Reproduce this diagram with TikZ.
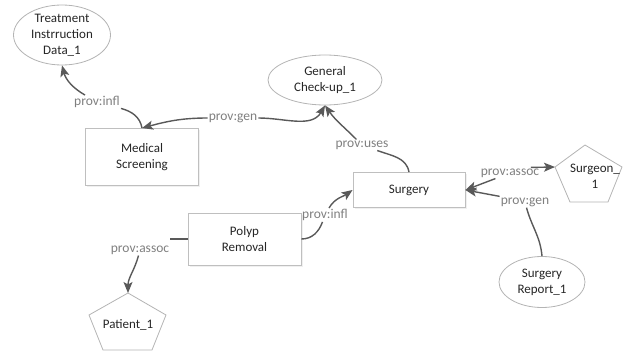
\documentclass[tikz,border=0pt]{standalone}
\usepackage{fontspec}
\setmainfont{Carlito}
\usetikzlibrary{arrows.meta, shapes.geometric, positioning, calc, shadows}
\definecolor{provarrow}{HTML}{595959}
\definecolor{provlabel}{HTML}{7F7F7F}
\definecolor{provbox}{HTML}{BFBFBF}
\definecolor{provshape}{HTML}{B4B4B4}
\definecolor{provtext}{HTML}{262626}

\begin{document}
\begin{tikzpicture}[
    x=1pt, y=-1pt,
    entity/.style={
        ellipse,
        draw=provshape,
        line width=0.8pt,
        fill=white,
        inner sep=0pt,
        align=center,
        text=provtext,
        font=\fontsize{13}{16}\selectfont
    },
    activity/.style={
        rectangle,
        draw=provbox,
        line width=0.9pt,
        fill=white,
        drop shadow={opacity=0.12, shadow xshift=1.5pt, shadow yshift=-1.5pt},
        align=center,
        text=provtext,
        font=\fontsize{13}{16}\selectfont
    },
    agent/.style={
        draw=provshape,
        line width=0.8pt,
        fill=white
    },
    agenttext/.style={
        align=center,
        text=provtext,
        font=\fontsize{13}{16}\selectfont
    },
    rel/.style={
        inner sep=1pt,
        text=provlabel,
        font=\fontsize{13.5}{16}\selectfont
    },
    line/.style={
        draw=provarrow,
        line width=1.4pt
    },
    arrow/.style={
        line,
        -{Stealth[length=11pt, width=9pt, inset=2.5pt]}
    }
]
\useasboundingbox (0,0) rectangle (635,353);

% Entities
\node[entity, minimum width=97, minimum height=60] (treat) at (62,35) {Treatment\\Instrruction\\Data\_1};
\node[entity, minimum width=114, minimum height=50] (checkup) at (325,80) {General\\Check-up\_1};
\node[entity, minimum width=86, minimum height=51] (report) at (542,282) {Surgery\\Report\_1};

% Activities
\node[activity, minimum width=113, minimum height=57] (medscr) at (142,157) {Medical\\Screening};
\node[activity, minimum width=112, minimum height=35] (surgery) at (409,190) {Surgery};
\node[activity, minimum width=113, minimum height=52] (polyp) at (244.5,239) {Polyp\\Removal};

% Agents
\draw[agent] (128,293) -- (166,315) -- (152,350) -- (103,350) -- (89,315) -- cycle;
\coordinate (patienttop) at (128,293);
\node[agenttext] (patient) at (128,325) {Patient\_1};

\draw[agent] (585,145) -- (622,167) -- (608,202) -- (570,202) -- (555,167) -- cycle;
\coordinate (surgeonleft) at (555,167);
\node[agenttext] (surgeon) at (595,176) {Surgeon\_\\1};

% Relation labels
\node[rel] (infl1) at (97,102) {prov:infl};
\node[rel] (gen1) at (233,118) {prov:gen};
\node[rel] (uses) at (362,145) {prov:uses};
\node[rel] (infl2) at (325,215) {prov:infl};
\node[rel] (assoc1) at (140,250) {prov:assoc};
\node[rel] (assoc2) at (510,173) {prov:assoc};
\node[rel] (gen2) at (525,202) {prov:gen};

% Connections
\draw[line] (medscr.north) to[out=100, in=-15] (infl1);
\draw[arrow] (infl1) to[out=150, in=-75] (treat.south);

\draw[arrow] (gen1) to[out=180, in=15] (medscr.north);
\draw[arrow] (gen1) to[out=0, in=-120] (checkup.south);

\draw[line] (surgery.north) to[out=100, in=-20] (uses);
\draw[arrow] (uses) to[out=135, in=-55] (checkup.south);

\draw[line] (polyp.east) to[out=0, in=-110] (infl2);
\draw[arrow] (infl2) to[out=60, in=215] (surgery.west);

\draw[line] (polyp.west) -- (polyp.west -| assoc1.east);
\draw[arrow] (assoc1) to[out=-105, in=90] (patienttop);

\draw[arrow] (assoc2.15) -- (surgeonleft);
\draw[arrow] (assoc2) -- (surgery.east);

\draw[line] (report.north) to[out=95, in=-75] (gen2);
\draw[arrow] (gen2.north west) -- (surgery.east);

\end{tikzpicture}
\end{document}
